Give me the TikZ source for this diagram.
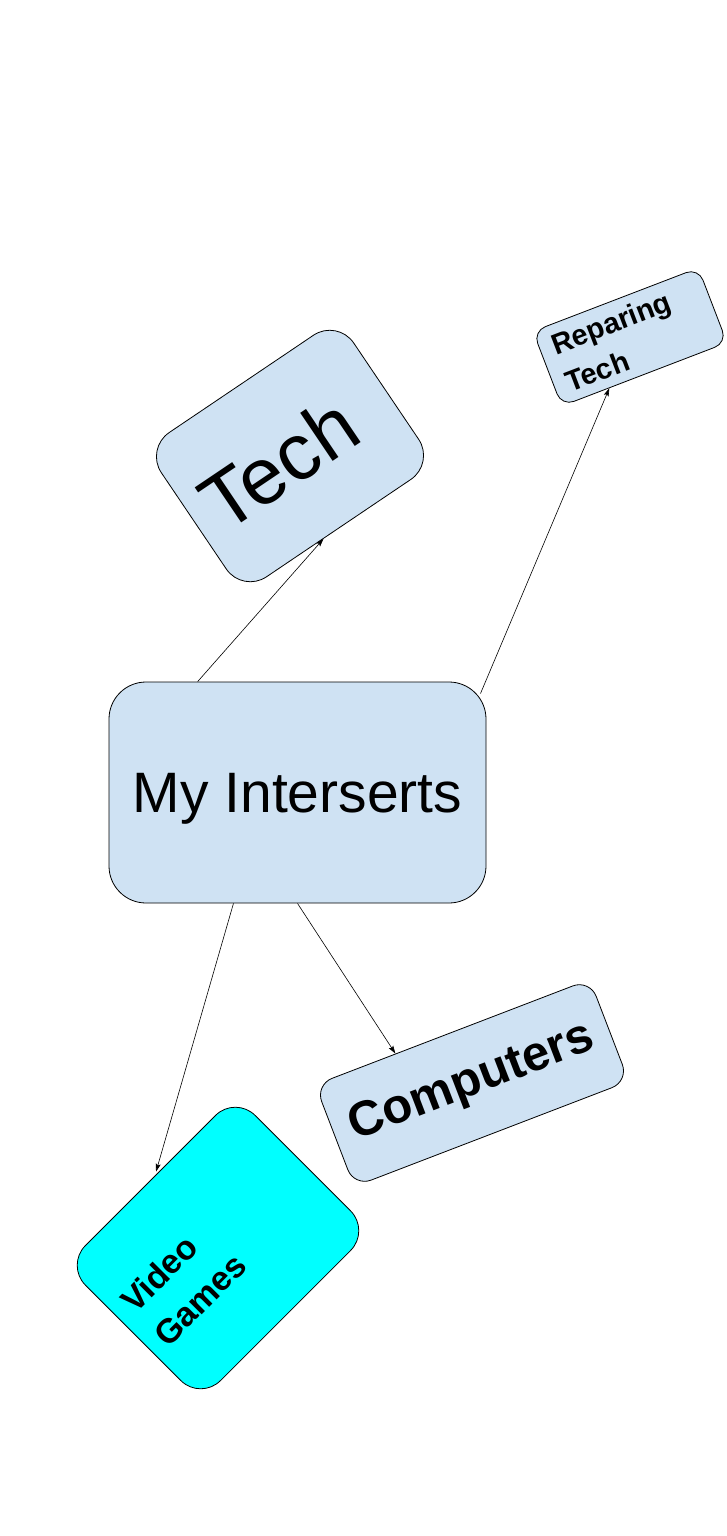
\documentclass[tikz,border=0pt]{standalone}
\usepackage{fontspec}
\setmainfont{Liberation Sans}
\usetikzlibrary{arrows.meta,calc}

\definecolor{topicblue}{HTML}{CFE2F3}
\definecolor{topiccyan}{HTML}{00FFFF}

\begin{document}
\begin{tikzpicture}[x=1pt, y=-1pt,
    topic/.style={draw=black, line width=0.8pt, fill=topicblue, inner sep=0pt},
    link/.style={-{Stealth[length=8pt, width=5pt, inset=1.5pt]}, line width=0.6pt}]

    \useasboundingbox (0,0) rectangle (727,1536);

    % Centre box
    \node[topic, minimum width=377pt, minimum height=221pt, rounded corners=37pt,
          text depth=0pt, font=\fontsize{57}{66}\selectfont] (main) at (297.5,792.5) {My Interserts};

    % Tech
    \node[topic, rotate=34, minimum width=232pt, minimum height=174pt, rounded corners=29pt,
          text width=196pt, inner xsep=18pt, align=left,
          font=\fontsize{80}{92}\selectfont] (tech) at (290,456) {Tech};

    % Reparing Tech
    \node[topic, rotate=21, minimum width=177pt, minimum height=80pt, rounded corners=13pt,
          text width=151pt, inner xsep=13pt, align=left,
          font=\bfseries\fontsize{29}{40}\selectfont] (rep) at (630,337) {Reparing\\Tech};

    % Computers
    \node[topic, rotate=21, minimum width=294pt, minimum height=109pt, rounded corners=18pt,
          font=\bfseries\fontsize{49}{56}\selectfont] (comp) at (472,1083) {Computers};

    % Video Games
    \node[topic, fill=topiccyan, rotate=45, minimum width=240pt, minimum height=191pt, rounded corners=28pt,
          text width=212pt, inner xsep=14pt, align=left,
          font=\bfseries\fontsize{34}{47}\selectfont] (games) at (218,1248) {Video\\Games};

    % Links
    \draw[link] (main.132) -- (tech.258);
    \draw[link] ($(main.center)+(183,-99)$) -- (rep.227);
    \draw[link, shorten >=4pt] (main.240) -- (games.86);
    \draw[link] (main.270) -- (comp.138);

\end{tikzpicture}
\end{document}
